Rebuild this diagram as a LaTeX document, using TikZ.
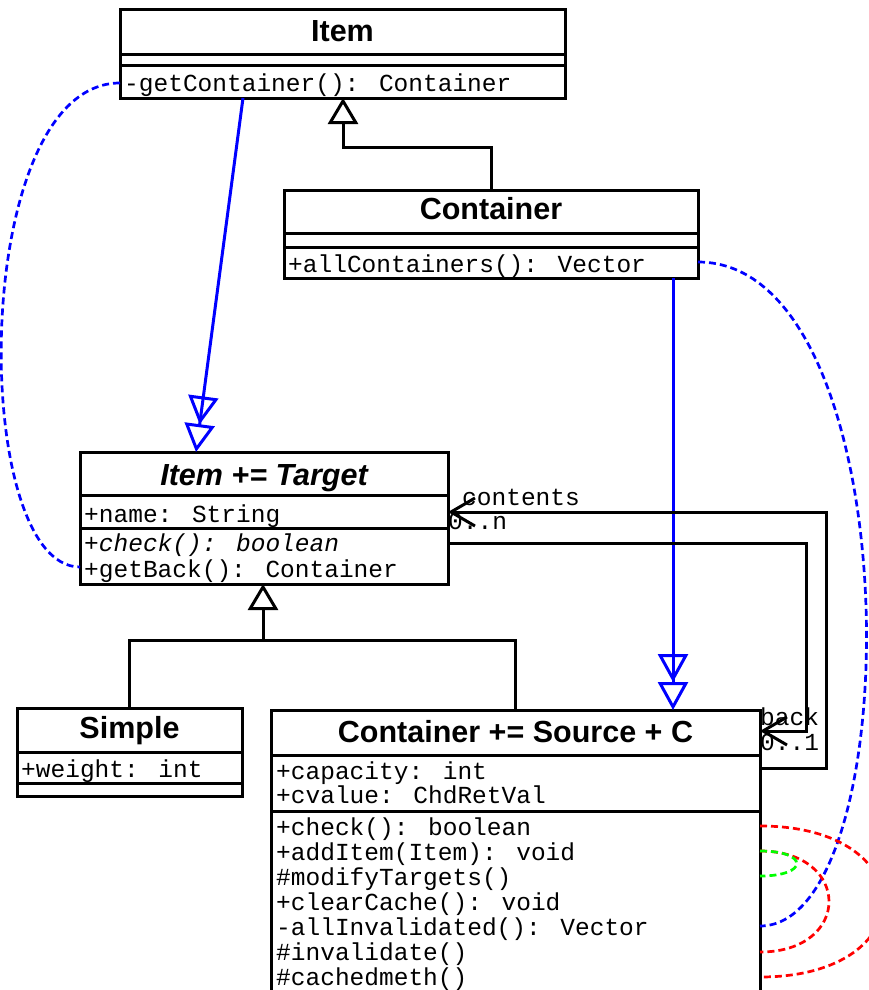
\documentclass[tikz,border=0pt]{standalone}
\usepackage{fontspec}
\setmainfont{Liberation Sans}
\newfontfamily\monof{Liberation Mono}
\usetikzlibrary{arrows.meta}
\definecolor{pblue}{RGB}{0,0,255}
\definecolor{pred}{RGB}{255,0,0}
\definecolor{pgreen}{RGB}{0,255,0}
\tikzset{
  classbox/.style={draw, line width=3pt, rectangle, outer sep=0pt, inner sep=0pt, anchor=north west},
  sepline/.style={line width=3pt},
  ctitle/.style={anchor=base, inner sep=0pt, font=\fontsize{30.5}{36}\selectfont\bfseries},
  mono/.style={anchor=base west, inner sep=0pt, font=\fontsize{24.5}{25}\selectfont\monof},
  genl/.style={pblue, line width=3pt, -{Triangle[open,length=28pt,width=30pt] Triangle[open,length=28pt,width=30pt]}},
  inher/.style={line width=3pt, -{Triangle[open,length=26pt,width=30pt]}},
  assoc/.style={line width=3pt, -{Straight Barb[length=24pt,width=28pt]}},
  dep/.style={line width=2.7pt, dash pattern=on 7pt off 4pt},
}
\begin{document}
\begin{tikzpicture}[x=1pt,y=-1pt]
\clip (0,0) rectangle (869,990);
\useasboundingbox (0,0) rectangle (869,990);

% Item
\node[classbox, minimum width=445pt, minimum height=88pt] (item) at (120,10) {};
\draw[sepline] (item.west |- 0,55) -- (item.east |- 0,55);
\draw[sepline] (item.west |- 0,66) -- (item.east |- 0,66);
\node[ctitle] (itemt) at (342.5,42) {Item};
\node[mono] (itemm) at (124,92) {-getContainer(): Container};

% Container
\node[classbox, minimum width=414pt, minimum height=88pt] (cont) at (284,190) {};
\draw[sepline] (cont.west |- 0,233) -- (cont.east |- 0,233);
\draw[sepline] (cont.west |- 0,247) -- (cont.east |- 0,247);
\node[ctitle] (contt) at (491,219) {Container};
\node[mono] (contm) at (288,272) {+allContainers(): Vector};

% Item += Target
\node[classbox, minimum width=368pt, minimum height=132pt] (targ) at (80,452) {};
\draw[sepline] (targ.west |- 0,495) -- (targ.east |- 0,495);
\draw[sepline] (targ.west |- 0,528) -- (targ.east |- 0,528);
\node[ctitle, font=\fontsize{30.5}{36}\selectfont\bfseries\itshape] (targt) at (264,485) {Item += Target};
\node[mono] (targa) at (84,522) {+name: String};
\node[mono, font=\fontsize{24.5}{25}\selectfont\monof\itshape] (targm1) at (84,551) {+check(): boolean};
\node[mono] (targm2) at (84,577) {+getBack(): Container};

% Simple
\node[classbox, minimum width=225pt, minimum height=88pt] (simp) at (17,708) {};
\draw[sepline] (simp.west |- 0,752) -- (simp.east |- 0,752);
\draw[sepline] (simp.west |- 0,783) -- (simp.east |- 0,783);
\node[ctitle] (simpt) at (129.5,738) {Simple};
\node[mono] (simpa) at (21,777) {+weight: int};

% Container += Source + C
\node[classbox, minimum width=489pt, minimum height=300pt] (cs) at (271,710) {};
\draw[sepline] (cs.west |- 0,755) -- (cs.east |- 0,755);
\draw[sepline] (cs.west |- 0,811) -- (cs.east |- 0,811);
\node[ctitle] (cst) at (515.5,742) {Container += Source + C};
\node[mono] (csa1) at (276,779) {+capacity: int};
\node[mono] (csa2) at (276,803) {+cvalue: ChdRetVal};
\node[mono] (csm1) at (276,835) {+check(): boolean};
\node[mono] (csm2) at (276,860) {+addItem(Item): void};
\node[mono] (csm3) at (276,885) {\#modifyTargets()};
\node[mono] (csm4) at (276,910) {+clearCache(): void};
\node[mono] (csm5) at (276,935) {-allInvalidated(): Vector};
\node[mono] (csm6) at (276,960) {\#invalidate()};
\node[mono] (csm7) at (276,985) {\#cachedmeth()};

% generalizations (blue)
\draw[genl] (item.south -| 243,0) -- (targ.north -| 196,0);
\draw[genl] (cont.south -| 673,0) -- (cs.north -| 673,0);

% inheritance Container -> Item
\draw[inher] (cont.north -| 491,0) |- (343,147) -- (item.south -| 343,0);

% inheritance Simple, CS -> Target
\coordinate (junc) at (263,640);
\draw[line width=3pt] (simp.north) |- (junc) -| (cs.north);
\draw[inher] (junc) -- (targ.south -| 263,0);

% associations
\draw[assoc] (cs.east |- 0,768) -| (826,512) -- (targ.east |- 0,512);
\draw[assoc] (targ.east |- 0,543) -| (806,731) -- (cs.east |- 0,731);
\node[mono] (lcont) at (462,505) {contents};
\node[mono] (lcontm) at (448,529) {0..n};
\node[mono] (lback) at (760,725) {back};
\node[mono] (lbackm) at (760,750) {0..1};

% dependencies (dotted)
\draw[dep, pblue] (item.west |- 0,83) .. controls (-31,83) and (-31,567) .. (targ.west |- 0,567);
\draw[dep, pblue] (cont.east |- 0,262) .. controls (911,262) and (911,926) .. (cs.east |- 0,926);
\draw[dep, pred] (cs.east |- 0,826) .. controls (924,826) and (924,977) .. (cs.east |- 0,977);
\draw[dep, pred] (cs.east |- 0,851) .. controls (852,851) and (852,952) .. (cs.east |- 0,952);
\draw[dep, pgreen] (cs.east |- 0,851) .. controls (809,851) and (809,876) .. (cs.east |- 0,876);
\end{tikzpicture}
\end{document}
